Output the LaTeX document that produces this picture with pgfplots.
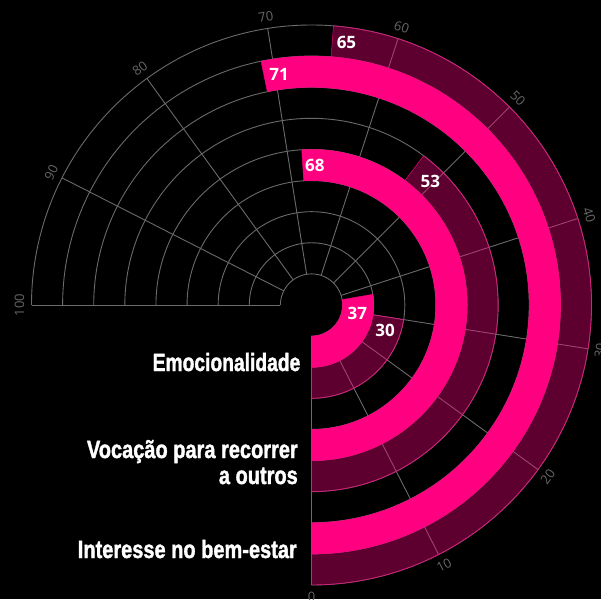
\documentclass[border=0pt]{standalone}
\usepackage{pgfplots}
\pgfplotsset{compat=1.18}
\usepackage{pgfplotstable}
\usepackage{graphicx}
\usepackage{fontspec}
\setmainfont{Open Sans}
\newfontfamily\catfont{Liberation Sans}[BoldFeatures={FakeBold=1.6}]
\definecolor{hotpink}{HTML}{FF0080}
\definecolor{gridgray}{HTML}{6A6A6A}
\definecolor{tickgray}{HTML}{666666}

\pgfdeclareplotmark{blank}{}

% radii in px (band width 31.11), values 0-100 over 270 degrees
\pgfplotstableread{
x y rin rout val loff
0 0 31.11 62.22 37 20.5
0 0 124.44 155.56 68 5.0
0 0 217.78 248.89 71 3.7
}\pinkbars
\pgfplotstableread{
x y rin rout val loff
0 0 62.22 93.33 30 9.9
0 0 155.56 186.67 53 7.1
0 0 248.89 280 65 3.1
}\winebars

\pgfplotsset{
  radial bar/.style={
    scatter, only marks, mark=blank,
    point meta=explicit,
    visualization depends on={\thisrow{rin}\as\rin},
    visualization depends on={\thisrow{rout}\as\rout},
    visualization depends on={\thisrow{val}\as\val},
    visualization depends on={\thisrow{loff}\as\loff},
    scatter/@pre marker code/.code={%
      \pgfmathsetmacro\aend{-90+2.7*\val}%
      \pgfmathsetmacro\rmid{(\rin+\rout)/2}%
      \pgfmathsetmacro\alab{\aend-\loff}%
      \pgfmathtruncatemacro\vlab{round(\val)}%
      \fill[#1] (-90:\rin pt) arc[start angle=-90,end angle=\aend,radius=\rin pt]
        -- (\aend:\rout pt) arc[start angle=\aend,end angle=-90,radius=\rout pt] -- cycle;
      \node[text=white,font=\bfseries\fontsize{17}{17}\selectfont,inner sep=0pt] at (\alab:\rmid pt) {\vlab};
    },
    scatter/@post marker code/.code={},
  },
}

\begin{document}
\begin{tikzpicture}
\fill[black] (-311.5pt,-294pt) rectangle (289.5pt,305pt);
% grid circles
\foreach \k in {1,...,9}{
  \pgfmathsetmacro\r{\k*31.111}
  \draw[gridgray,line width=0.9pt] (-90:\r pt) arc[start angle=-90,end angle=180,radius=\r pt];
}
% spokes
\foreach \v in {0,10,...,100}{
  \pgfmathsetmacro\th{-90+2.7*\v}
  \draw[gridgray,line width=0.9pt] (\th:31.11pt) -- (\th:280pt);
}
% tick labels
\foreach \v in {0,10,...,100}{
  \pgfmathsetmacro\th{-90+2.7*\v}
  \pgfmathsetmacro\rot{\th<0 ? \th+90 : \th-90}
  \node[text=tickgray,font=\fontsize{13}{13}\selectfont,rotate=\rot,inner sep=0pt] at (\th:292pt) {\v};
}
\begin{axis}[
  at={(0pt,0pt)}, anchor=origin,
  x=1pt, y=1pt,
  xmin=-311.5, xmax=289.5, ymin=-294, ymax=305,
  hide axis, clip=false,
]
\addplot[radial bar={hotpink,fill opacity=0.37}] table[x=x,y=y,meta=val] {\winebars};
\addplot[radial bar={hotpink}] table[x=x,y=y,meta=val] {\pinkbars};
\end{axis}
% category labels
\begin{scope}[every node/.style={anchor=base east,text=white,inner sep=0pt,font=\catfont\bfseries\fontsize{25}{26}\selectfont}]
\node at (-11pt,-66pt) {\scalebox{0.77}[1]{Emocionalidade}};
\node at (-13.5pt,-153pt) {\scalebox{0.8}[1]{Vocação para recorrer}};
\node at (-13.5pt,-179pt) {\scalebox{0.8}[1]{a outros}};
\node at (-14.5pt,-253pt) {\scalebox{0.8}[1]{Interesse no bem-estar}};
\end{scope}
\pgfresetboundingbox
\path[use as bounding box] (-311.5pt,-294pt) rectangle (289.5pt,305pt);
\end{tikzpicture}
\end{document}
